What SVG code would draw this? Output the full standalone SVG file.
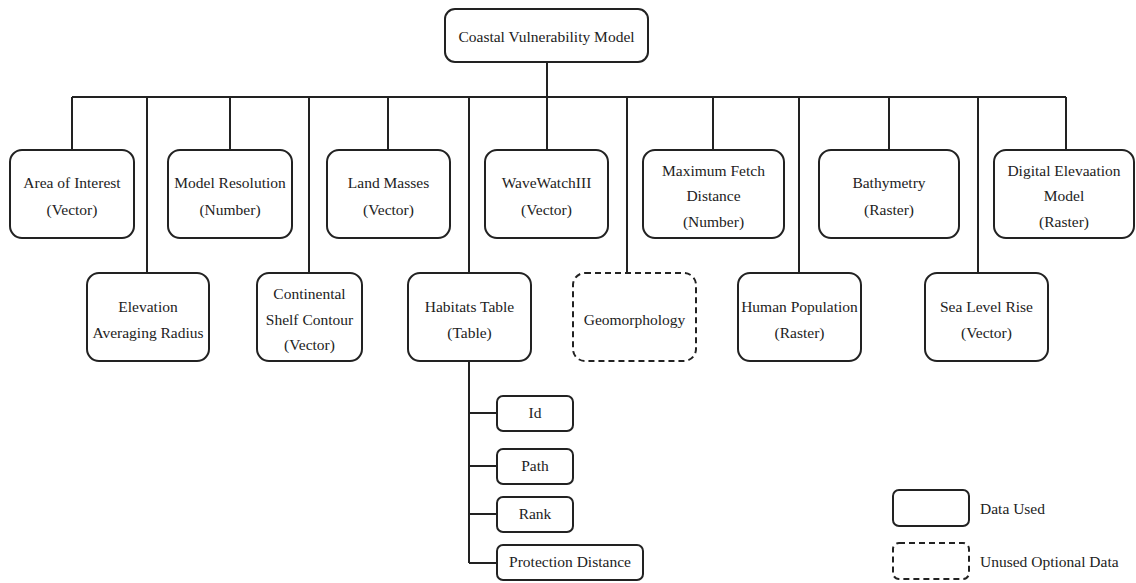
<svg xmlns="http://www.w3.org/2000/svg" width="1136" height="583" viewBox="0 0 1136 583">
<style>
.box{fill:#fff;stroke:#222;stroke-width:2}
.dash{fill:#fff;stroke:#222;stroke-width:2;stroke-dasharray:6 4}
.c{stroke:#222;stroke-width:2;fill:none}
</style>
<rect width="1136" height="583" fill="#fff"/>
<g id="connectors">
<path class="c" d="M547 62V97M72 97H1066M72 97V150M230 97V150M388 97V150M547 97V150M713 97V150M889 97V150M1066 97V150M147 97V273M309 97V273M469 97V273M627 97V273M799 97V273M978 97V273"/>
<path class="c" d="M469 361V563M469 413H497M469 466H497M469 514H497M469 563H497"/>
</g>
<g id="root"><rect class="box" x="445" y="9" width="203" height="53" rx="10"/><text font-family="Liberation Serif" font-size="15.5" fill="#222" text-anchor="middle" x="546.5" y="42">Coastal Vulnerability Model</text></g>
<g id="aoi"><rect class="box" x="10" y="150" width="124" height="88" rx="12"/><text font-family="Liberation Serif" font-size="15.5" fill="#222" text-anchor="middle" x="72" y="188">Area of Interest</text><text font-family="Liberation Serif" font-size="15.5" fill="#222" text-anchor="middle" x="72" y="215">(Vector)</text></g>
<g id="model-resolution"><rect class="box" x="168" y="150" width="124" height="88" rx="12"/><text font-family="Liberation Serif" font-size="15.5" fill="#222" text-anchor="middle" x="230" y="188">Model Resolution</text><text font-family="Liberation Serif" font-size="15.5" fill="#222" text-anchor="middle" x="230" y="215">(Number)</text></g>
<g id="land-masses"><rect class="box" x="327" y="150" width="123" height="88" rx="12"/><text font-family="Liberation Serif" font-size="15.5" fill="#222" text-anchor="middle" x="388.5" y="188">Land Masses</text><text font-family="Liberation Serif" font-size="15.5" fill="#222" text-anchor="middle" x="388.5" y="215">(Vector)</text></g>
<g id="wavewatch"><rect class="box" x="485" y="150" width="123" height="88" rx="12"/><text font-family="Liberation Serif" font-size="15.5" fill="#222" text-anchor="middle" x="546.5" y="188">WaveWatchIII</text><text font-family="Liberation Serif" font-size="15.5" fill="#222" text-anchor="middle" x="546.5" y="215">(Vector)</text></g>
<g id="max-fetch"><rect class="box" x="643" y="150" width="141" height="88" rx="12"/><text font-family="Liberation Serif" font-size="15.5" fill="#222" text-anchor="middle" x="713.5" y="176">Maximum Fetch</text><text font-family="Liberation Serif" font-size="15.5" fill="#222" text-anchor="middle" x="713.5" y="201">Distance</text><text font-family="Liberation Serif" font-size="15.5" fill="#222" text-anchor="middle" x="713.5" y="227">(Number)</text></g>
<g id="bathymetry"><rect class="box" x="819" y="150" width="140" height="88" rx="12"/><text font-family="Liberation Serif" font-size="15.5" fill="#222" text-anchor="middle" x="889" y="188">Bathymetry</text><text font-family="Liberation Serif" font-size="15.5" fill="#222" text-anchor="middle" x="889" y="215">(Raster)</text></g>
<g id="dem"><rect class="box" x="994" y="150" width="140" height="88" rx="12"/><text font-family="Liberation Serif" font-size="15.5" fill="#222" text-anchor="middle" x="1064" y="176">Digital Elevaation</text><text font-family="Liberation Serif" font-size="15.5" fill="#222" text-anchor="middle" x="1064" y="201">Model</text><text font-family="Liberation Serif" font-size="15.5" fill="#222" text-anchor="middle" x="1064" y="227">(Raster)</text></g>
<g id="elevation-radius"><rect class="box" x="87" y="273" width="122" height="88" rx="12"/><text font-family="Liberation Serif" font-size="15.5" fill="#222" text-anchor="middle" x="148" y="312">Elevation</text><text font-family="Liberation Serif" font-size="15.5" fill="#222" text-anchor="middle" x="148" y="338">Averaging Radius</text></g>
<g id="shelf-contour"><rect class="box" x="257" y="273" width="105" height="88" rx="12"/><text font-family="Liberation Serif" font-size="15.5" fill="#222" text-anchor="middle" x="309.5" y="299">Continental</text><text font-family="Liberation Serif" font-size="15.5" fill="#222" text-anchor="middle" x="309.5" y="325">Shelf Contour</text><text font-family="Liberation Serif" font-size="15.5" fill="#222" text-anchor="middle" x="309.5" y="350">(Vector)</text></g>
<g id="habitats"><rect class="box" x="408" y="273" width="123" height="88" rx="12"/><text font-family="Liberation Serif" font-size="15.5" fill="#222" text-anchor="middle" x="469.5" y="312">Habitats Table</text><text font-family="Liberation Serif" font-size="15.5" fill="#222" text-anchor="middle" x="469.5" y="338">(Table)</text></g>
<g id="geomorphology"><rect class="dash" x="573" y="273" width="123" height="88" rx="12"/><text font-family="Liberation Serif" font-size="15.5" fill="#222" text-anchor="middle" x="634.5" y="325">Geomorphology</text></g>
<g id="human-population"><rect class="box" x="738" y="273" width="123" height="88" rx="12"/><text font-family="Liberation Serif" font-size="15.5" fill="#222" text-anchor="middle" x="799.5" y="312">Human Population</text><text font-family="Liberation Serif" font-size="15.5" fill="#222" text-anchor="middle" x="799.5" y="338">(Raster)</text></g>
<g id="sea-level"><rect class="box" x="925" y="273" width="123" height="88" rx="12"/><text font-family="Liberation Serif" font-size="15.5" fill="#222" text-anchor="middle" x="986.5" y="312">Sea Level Rise</text><text font-family="Liberation Serif" font-size="15.5" fill="#222" text-anchor="middle" x="986.5" y="338">(Vector)</text></g>
<g id="id"><rect class="box" x="497" y="396" width="76" height="35" rx="6"/><text font-family="Liberation Serif" font-size="15.5" fill="#222" text-anchor="middle" x="535" y="418">Id</text></g>
<g id="path"><rect class="box" x="497" y="449" width="76" height="35" rx="6"/><text font-family="Liberation Serif" font-size="15.5" fill="#222" text-anchor="middle" x="535" y="471">Path</text></g>
<g id="rank"><rect class="box" x="497" y="497" width="76" height="35" rx="6"/><text font-family="Liberation Serif" font-size="15.5" fill="#222" text-anchor="middle" x="535" y="519">Rank</text></g>
<g id="protection-distance"><rect class="box" x="497" y="545" width="146" height="35" rx="6"/><text font-family="Liberation Serif" font-size="15.5" fill="#222" text-anchor="middle" x="570" y="567">Protection Distance</text></g>
<g id="legend">
<rect class="box" x="893" y="490" width="76" height="36" rx="6"/><text font-family="Liberation Serif" font-size="15.5" fill="#222" x="980" y="514">Data Used</text>
<rect class="dash" x="893" y="543" width="76" height="36" rx="6"/><text font-family="Liberation Serif" font-size="15.5" fill="#222" x="980" y="567">Unused Optional Data</text>
</g>
</svg>
